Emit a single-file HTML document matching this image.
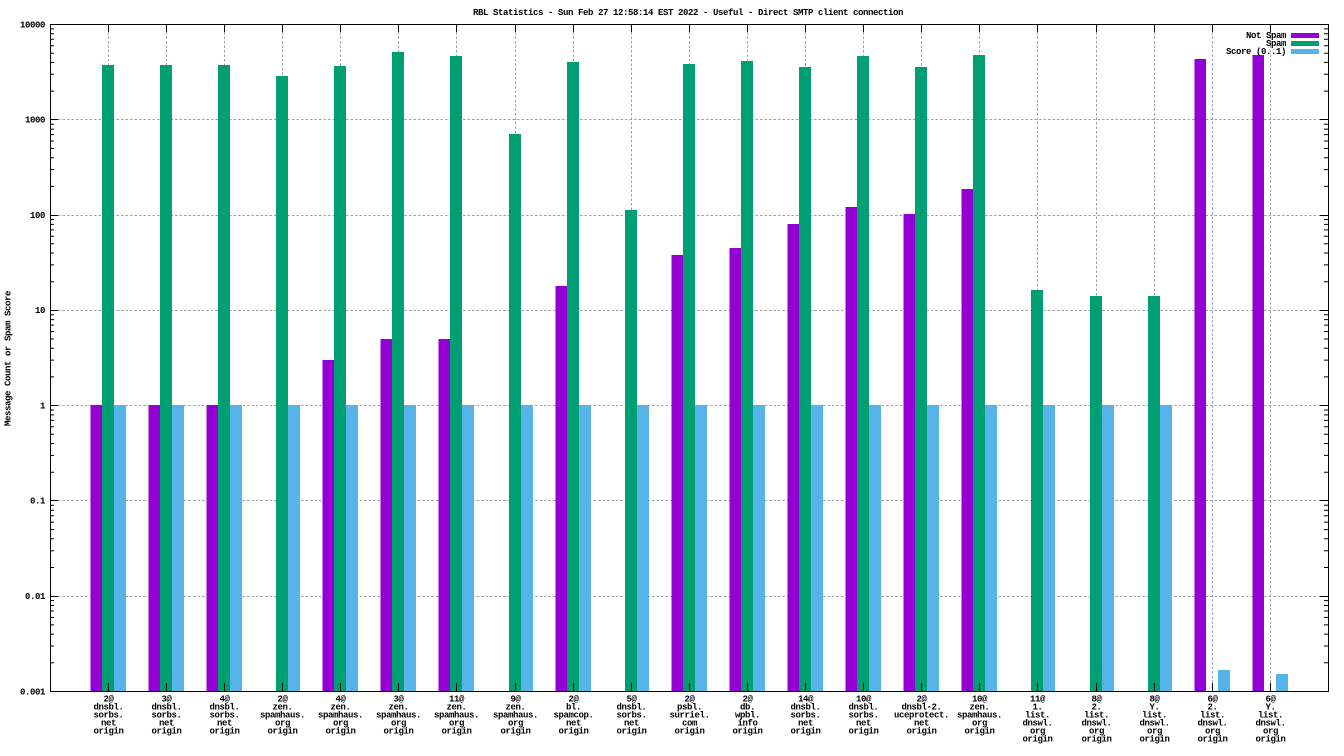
<!DOCTYPE html>
<html><head><meta charset="utf-8"><style>
html,body{margin:0;padding:0;background:#fff;}
svg{display:block;}
text{font-family:"Liberation Mono",monospace;font-size:9px;font-weight:bold;letter-spacing:-0.4px;fill:#000;}
.c{text-anchor:middle;}
.r{text-anchor:end;}
</style></head><body>
<svg width="1344" height="756" viewBox="0 0 1344 756" xmlns="http://www.w3.org/2000/svg">
<rect width="1344" height="756" fill="#fff"/>
<defs>
<path id="dec" d="M50 -28.7h4M50 -45.5h4M50 -57.4h4M50 -66.6h4M50 -74.1h4M50 -80.5h4M50 -86h4M50 -90.9h4M1328 -28.7h-4M1328 -45.5h-4M1328 -57.4h-4M1328 -66.6h-4M1328 -74.1h-4M1328 -80.5h-4M1328 -86h-4M1328 -90.9h-4" stroke="#000" stroke-width="1" fill="none"/>
</defs>
<!-- grid -->
<g stroke="#a0a0a0" stroke-width="1" stroke-dasharray="2.5 2" fill="none">
<path d="M58 119.5H1320M58 215.5H1320M58 310.5H1320M58 405.5H1320M58 500.5H1320M58 596.5H1320"/>
<path d="M108.5 32V684M166.5 32V684M224.5 32V684M282.5 32V684M340.5 32V684M398.5 32V684M456.5 32V684M515.5 32V684M573.5 32V684M631.5 32V684M689.5 32V684M747.5 32V684M805.5 32V684M863.5 32V684M921.5 32V684M979.5 32V684M1037.5 32V684M1096.5 32V684M1154.5 32V684M1212.5 32V684M1270.5 32V684"/>
</g>
<!-- Not Spam -->
<g fill="#9400d3">
<rect x="90.5" y="405" width="11.5" height="286"/>
<rect x="148.5" y="405" width="11.5" height="286"/>
<rect x="206.5" y="405" width="11.5" height="286"/>
<rect x="322.5" y="360" width="11.5" height="331"/>
<rect x="380.5" y="339" width="11.5" height="352"/>
<rect x="438.5" y="339" width="11.5" height="352"/>
<rect x="555.5" y="286" width="11.5" height="405"/>
<rect x="671.5" y="255" width="11.5" height="436"/>
<rect x="729.5" y="248" width="11.5" height="443"/>
<rect x="787.5" y="224" width="11.5" height="467"/>
<rect x="845.5" y="207" width="11.5" height="484"/>
<rect x="903.5" y="214" width="11.5" height="477"/>
<rect x="961.5" y="189" width="11.5" height="502"/>
<rect x="1194.5" y="59" width="11.5" height="632"/>
<rect x="1252.5" y="55" width="11.5" height="636"/>
</g>
<!-- Spam -->
<g fill="#009e73">
<rect x="102" y="65" width="12" height="626"/>
<rect x="160" y="65" width="12" height="626"/>
<rect x="218" y="65" width="12" height="626"/>
<rect x="276" y="76" width="12" height="615"/>
<rect x="334" y="66" width="12" height="625"/>
<rect x="392" y="52" width="12" height="639"/>
<rect x="450" y="56" width="12" height="635"/>
<rect x="509" y="134" width="12" height="557"/>
<rect x="567" y="62" width="12" height="629"/>
<rect x="625" y="210" width="12" height="481"/>
<rect x="683" y="64" width="12" height="627"/>
<rect x="741" y="61" width="12" height="630"/>
<rect x="799" y="67" width="12" height="624"/>
<rect x="857" y="56" width="12" height="635"/>
<rect x="915" y="67" width="12" height="624"/>
<rect x="973" y="55" width="12" height="636"/>
<rect x="1031" y="290" width="12" height="401"/>
<rect x="1090" y="296" width="12" height="395"/>
<rect x="1148" y="296" width="12" height="395"/>
</g>
<!-- Score -->
<g fill="#56b4e9">
<rect x="114" y="405" width="12" height="286"/>
<rect x="172" y="405" width="12" height="286"/>
<rect x="230" y="405" width="12" height="286"/>
<rect x="288" y="405" width="12" height="286"/>
<rect x="346" y="405" width="12" height="286"/>
<rect x="404" y="405" width="12" height="286"/>
<rect x="462" y="405" width="12" height="286"/>
<rect x="521" y="405" width="12" height="286"/>
<rect x="579" y="405" width="12" height="286"/>
<rect x="637" y="405" width="12" height="286"/>
<rect x="695" y="405" width="12" height="286"/>
<rect x="753" y="405" width="12" height="286"/>
<rect x="811" y="405" width="12" height="286"/>
<rect x="869" y="405" width="12" height="286"/>
<rect x="927" y="405" width="12" height="286"/>
<rect x="985" y="405" width="12" height="286"/>
<rect x="1043" y="405" width="12" height="286"/>
<rect x="1102" y="405" width="12" height="286"/>
<rect x="1160" y="405" width="12" height="286"/>
<rect x="1218" y="670" width="12" height="21"/>
<rect x="1276" y="674" width="12" height="17"/>
</g>
<!-- axes and ticks -->
<g stroke="#000" stroke-width="1" fill="none">
<rect x="50.5" y="24.5" width="1278" height="667"/>
<path d="M50 119.5h8M50 215.5h8M50 310.5h8M50 405.5h8M50 500.5h8M50 596.5h8M50 24.5h8M50 691.5h8M1328 119.5h-8M1328 215.5h-8M1328 310.5h-8M1328 405.5h-8M1328 500.5h-8M1328 596.5h-8M1328 24.5h-8M1328 691.5h-8"/>
<path d="M108.5 24v8M166.5 24v8M224.5 24v8M282.5 24v8M340.5 24v8M398.5 24v8M456.5 24v8M515.5 24v8M573.5 24v8M631.5 24v8M689.5 24v8M747.5 24v8M805.5 24v8M863.5 24v8M921.5 24v8M979.5 24v8M1037.5 24v8M1096.5 24v8M1154.5 24v8M1212.5 24v8M1270.5 24v8"/>
<path d="M108.5 691v-8M166.5 691v-8M224.5 691v-8M282.5 691v-8M340.5 691v-8M398.5 691v-8M456.5 691v-8M515.5 691v-8M573.5 691v-8M631.5 691v-8M689.5 691v-8M747.5 691v-8M805.5 691v-8M863.5 691v-8M921.5 691v-8M979.5 691v-8M1037.5 691v-8M1096.5 691v-8M1154.5 691v-8M1212.5 691v-8M1270.5 691v-8"/>
</g>
<use href="#dec" transform="translate(0,691.5)"/>
<use href="#dec" transform="translate(0,596.2)"/>
<use href="#dec" transform="translate(0,500.9)"/>
<use href="#dec" transform="translate(0,405.6)"/>
<use href="#dec" transform="translate(0,310.4)"/>
<use href="#dec" transform="translate(0,215.1)"/>
<use href="#dec" transform="translate(0,119.8)"/>
<!-- title -->
<text class="c" x="688" y="15">RBL Statistics - Sun Feb 27 12:58:14 EST 2022 - Useful - Direct SMTP client connection</text>
<!-- y label -->
<text class="c" transform="translate(10.5,358.5) rotate(-90)">Message Count or Spam Score</text>
<!-- y tick labels -->
<text class="r" x="45" y="27.5">10000</text>
<text class="r" x="45" y="122.5">1000</text>
<text class="r" x="45" y="218">100</text>
<text class="r" x="45" y="313">10</text>
<text class="r" x="45" y="408.5">1</text>
<text class="r" x="45" y="503.5">0.1</text>
<text class="r" x="45" y="599">0.01</text>
<text class="r" x="45" y="694.5">0.001</text>
<!-- legend -->
<text class="r" x="1286" y="38">Not Spam</text>
<text class="r" x="1286" y="46">Spam</text>
<text class="r" x="1286" y="54">Score (0..1)</text>
<rect x="1291" y="33" width="28" height="5" fill="#9400d3"/>
<rect x="1291" y="41" width="28" height="5" fill="#009e73"/>
<rect x="1291" y="49" width="28" height="5" fill="#56b4e9"/>
<!-- x labels -->
<g class="c">
<text class="c" x="108.5" y="701.5">2@</text><text class="c" x="108.5" y="709.5">dnsbl.</text><text class="c" x="108.5" y="717.5">sorbs.</text><text class="c" x="108.5" y="725.5">net</text><text class="c" x="108.5" y="733.5">origin</text>
<text class="c" x="166.5" y="701.5">3@</text><text class="c" x="166.5" y="709.5">dnsbl.</text><text class="c" x="166.5" y="717.5">sorbs.</text><text class="c" x="166.5" y="725.5">net</text><text class="c" x="166.5" y="733.5">origin</text>
<text class="c" x="224.5" y="701.5">4@</text><text class="c" x="224.5" y="709.5">dnsbl.</text><text class="c" x="224.5" y="717.5">sorbs.</text><text class="c" x="224.5" y="725.5">net</text><text class="c" x="224.5" y="733.5">origin</text>
<text class="c" x="282.5" y="701.5">2@</text><text class="c" x="282.5" y="709.5">zen.</text><text class="c" x="282.5" y="717.5">spamhaus.</text><text class="c" x="282.5" y="725.5">org</text><text class="c" x="282.5" y="733.5">origin</text>
<text class="c" x="340.5" y="701.5">4@</text><text class="c" x="340.5" y="709.5">zen.</text><text class="c" x="340.5" y="717.5">spamhaus.</text><text class="c" x="340.5" y="725.5">org</text><text class="c" x="340.5" y="733.5">origin</text>
<text class="c" x="398.5" y="701.5">3@</text><text class="c" x="398.5" y="709.5">zen.</text><text class="c" x="398.5" y="717.5">spamhaus.</text><text class="c" x="398.5" y="725.5">org</text><text class="c" x="398.5" y="733.5">origin</text>
<text class="c" x="456.5" y="701.5">11@</text><text class="c" x="456.5" y="709.5">zen.</text><text class="c" x="456.5" y="717.5">spamhaus.</text><text class="c" x="456.5" y="725.5">org</text><text class="c" x="456.5" y="733.5">origin</text>
<text class="c" x="515.5" y="701.5">9@</text><text class="c" x="515.5" y="709.5">zen.</text><text class="c" x="515.5" y="717.5">spamhaus.</text><text class="c" x="515.5" y="725.5">org</text><text class="c" x="515.5" y="733.5">origin</text>
<text class="c" x="573.5" y="701.5">2@</text><text class="c" x="573.5" y="709.5">bl.</text><text class="c" x="573.5" y="717.5">spamcop.</text><text class="c" x="573.5" y="725.5">net</text><text class="c" x="573.5" y="733.5">origin</text>
<text class="c" x="631.5" y="701.5">5@</text><text class="c" x="631.5" y="709.5">dnsbl.</text><text class="c" x="631.5" y="717.5">sorbs.</text><text class="c" x="631.5" y="725.5">net</text><text class="c" x="631.5" y="733.5">origin</text>
<text class="c" x="689.5" y="701.5">2@</text><text class="c" x="689.5" y="709.5">psbl.</text><text class="c" x="689.5" y="717.5">surriel.</text><text class="c" x="689.5" y="725.5">com</text><text class="c" x="689.5" y="733.5">origin</text>
<text class="c" x="747.5" y="701.5">2@</text><text class="c" x="747.5" y="709.5">db.</text><text class="c" x="747.5" y="717.5">wpbl.</text><text class="c" x="747.5" y="725.5">info</text><text class="c" x="747.5" y="733.5">origin</text>
<text class="c" x="805.5" y="701.5">14@</text><text class="c" x="805.5" y="709.5">dnsbl.</text><text class="c" x="805.5" y="717.5">sorbs.</text><text class="c" x="805.5" y="725.5">net</text><text class="c" x="805.5" y="733.5">origin</text>
<text class="c" x="863.5" y="701.5">10@</text><text class="c" x="863.5" y="709.5">dnsbl.</text><text class="c" x="863.5" y="717.5">sorbs.</text><text class="c" x="863.5" y="725.5">net</text><text class="c" x="863.5" y="733.5">origin</text>
<text class="c" x="921.5" y="701.5">2@</text><text class="c" x="921.5" y="709.5">dnsbl-2.</text><text class="c" x="921.5" y="717.5">uceprotect.</text><text class="c" x="921.5" y="725.5">net</text><text class="c" x="921.5" y="733.5">origin</text>
<text class="c" x="979.5" y="701.5">10@</text><text class="c" x="979.5" y="709.5">zen.</text><text class="c" x="979.5" y="717.5">spamhaus.</text><text class="c" x="979.5" y="725.5">org</text><text class="c" x="979.5" y="733.5">origin</text>
<text class="c" x="1037.5" y="701.5">11@</text><text class="c" x="1037.5" y="709.5">1.</text><text class="c" x="1037.5" y="717.5">list.</text><text class="c" x="1037.5" y="725.5">dnswl.</text><text class="c" x="1037.5" y="733.5">org</text><text class="c" x="1037.5" y="741.5">origin</text>
<text class="c" x="1096.5" y="701.5">8@</text><text class="c" x="1096.5" y="709.5">2.</text><text class="c" x="1096.5" y="717.5">list.</text><text class="c" x="1096.5" y="725.5">dnswl.</text><text class="c" x="1096.5" y="733.5">org</text><text class="c" x="1096.5" y="741.5">origin</text>
<text class="c" x="1154.5" y="701.5">8@</text><text class="c" x="1154.5" y="709.5">Y.</text><text class="c" x="1154.5" y="717.5">list.</text><text class="c" x="1154.5" y="725.5">dnswl.</text><text class="c" x="1154.5" y="733.5">org</text><text class="c" x="1154.5" y="741.5">origin</text>
<text class="c" x="1212.5" y="701.5">6@</text><text class="c" x="1212.5" y="709.5">2.</text><text class="c" x="1212.5" y="717.5">list.</text><text class="c" x="1212.5" y="725.5">dnswl.</text><text class="c" x="1212.5" y="733.5">org</text><text class="c" x="1212.5" y="741.5">origin</text>
<text class="c" x="1270.5" y="701.5">6@</text><text class="c" x="1270.5" y="709.5">Y.</text><text class="c" x="1270.5" y="717.5">list.</text><text class="c" x="1270.5" y="725.5">dnswl.</text><text class="c" x="1270.5" y="733.5">org</text><text class="c" x="1270.5" y="741.5">origin</text>
</g>
</svg>
</body></html>
